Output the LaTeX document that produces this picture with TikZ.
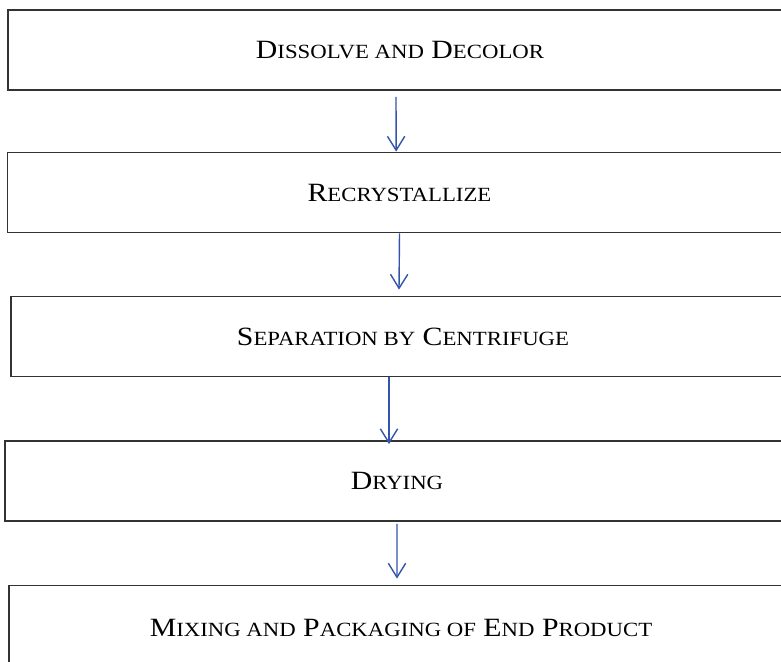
\documentclass[tikz,border=0pt]{standalone}
\usepackage{fontspec}
\setmainfont{Liberation Serif}[FakeStretch=1.13]
\usepackage{tikz}
\usetikzlibrary{arrows.meta}

\newcommand{\smallcap}[1]{{\fontsize{17.2pt}{20pt}\selectfont #1}}

\begin{document}
\begin{tikzpicture}[
    stage/.style={draw=black!80, line width=1.5pt, minimum width=23.52cm,
        minimum height=2.4cm, inner sep=0pt, align=center,
        font=\fontsize{22.5pt}{26pt}\selectfont},
    flow/.style={draw={rgb,255:red,52;green,84;blue,170}, line width=1.2pt,
        -{Straight Barb[length=0.42cm, width=0.52cm, line width=1.2pt]}}
    ]

    \useasboundingbox (0,0) rectangle (23.43,-19.86);

    \node[stage] (dis) at (12.0,-1.5) {D\smallcap{ISSOLVE AND} D\smallcap{ECOLOR}};

    \node[stage] (rec) at (11.985,-5.775) {R\smallcap{ECRYSTALLIZE}};

    \node[stage] (sep) at (12.09,-10.095) {S\smallcap{EPARATION BY} C\smallcap{ENTRIFUGE}};

    \node[stage] (dry) at (11.91,-14.43) {D\smallcap{RYING}};

    \node[stage, minimum height=2.55cm] (mix) at (12.03,-18.84)
        {M\smallcap{IXING AND} P\smallcap{ACKAGING OF} E\smallcap{ND} P\smallcap{RODUCT}};

    
    \draw[flow] ([shift={(-0.12,-0.18)}]dis.south) -- ([xshift=-0.1cm]rec.north);
    \draw[flow] (rec.south) -- ([shift={(-0.12,0.18)}]sep.north);
    \draw[flow] ([xshift=-0.42cm]sep.south) -- ([shift={(-0.24,-0.12)}]dry.north);
    \draw[flow] ([yshift=-0.06cm]dry.south) -- ([shift={(-0.12,0.18)}]mix.north);

\end{tikzpicture}
\end{document}
